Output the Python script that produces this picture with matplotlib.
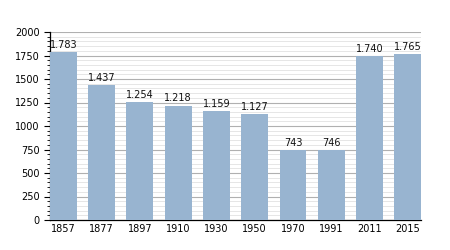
import matplotlib
matplotlib.use("Agg")
import matplotlib.pyplot as plt
from matplotlib.ticker import MultipleLocator

years = ["1857", "1877", "1897", "1910", "1930", "1950", "1970", "1991", "2011", "2015"]
population = [1783, 1437, 1254, 1218, 1159, 1127, 743, 746, 1740, 1765]
labels = ["1.783", "1.437", "1.254", "1.218", "1.159", "1.127", "743", "746", "1.740", "1.765"]

fig = plt.figure(figsize=(4.5, 2.5), dpi=100)
ax = fig.add_axes([0.111, 0.12, 0.825, 0.752])

x = list(range(len(years)))
bars = ax.bar(x, population, width=0.7, color="#98b4d0", zorder=3)
for xi, v, lab in zip(x, population, labels):
    ax.text(xi, v + 25, lab, ha="center", va="bottom", fontsize=7, color="#111111", zorder=4)

ax.set_xlim(-0.35, len(years) - 0.65)
ax.set_ylim(0, 2000)
ax.set_xticks(x)
ax.set_xticklabels(years, fontsize=7)
ax.yaxis.set_major_locator(MultipleLocator(250))
ax.yaxis.set_minor_locator(MultipleLocator(50))
ax.tick_params(axis="y", labelsize=7, length=4, width=0.8)
ax.tick_params(axis="y", which="minor", length=2, width=0.6)
ax.tick_params(axis="x", length=0, pad=3)
ax.grid(axis="y", which="major", color="#b0b0b0", linewidth=0.8, zorder=0)
ax.grid(axis="y", which="minor", color="#e2e2e2", linewidth=0.6, zorder=0)
for s in ["top", "right"]:
    ax.spines[s].set_visible(False)
ax.spines["left"].set_linewidth(0.9)
ax.spines["bottom"].set_linewidth(0.9)

fig.savefig("out.png", dpi=100)
